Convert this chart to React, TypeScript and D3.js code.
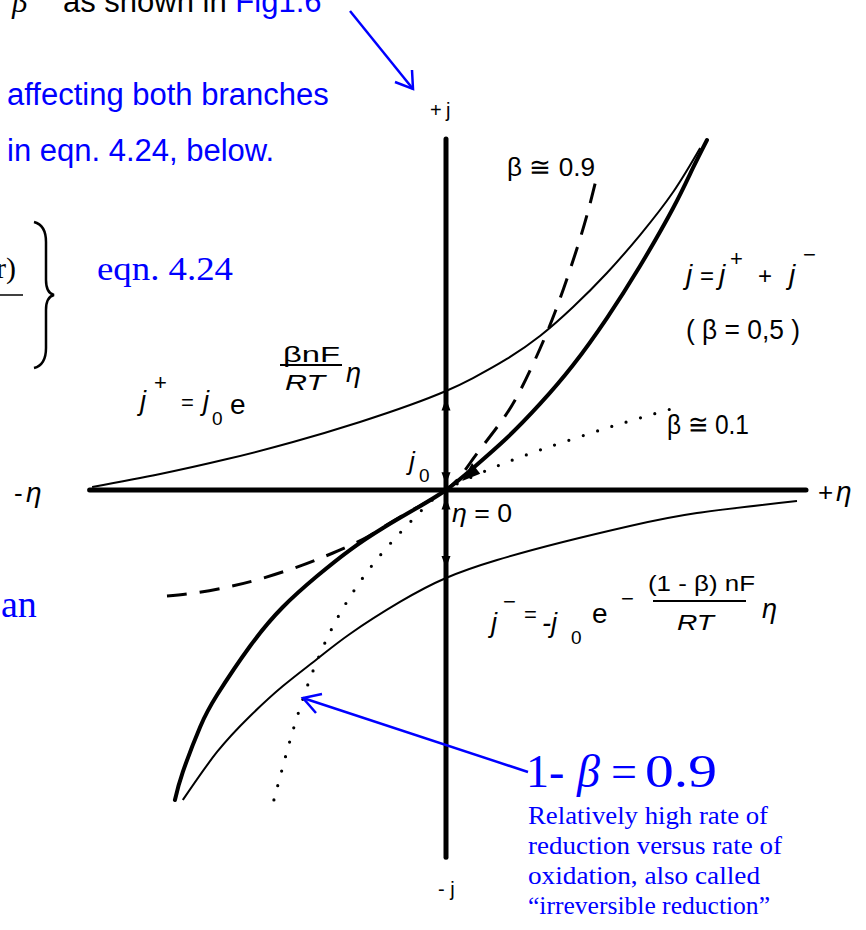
import React from "react";
import * as d3 from "d3";

const W = 866;
const H = 930;

// Overpotential η (relative units) and current density j (relative units)
// Anodic partial current j+ (β = 0.5)
const anodicEta = [-0.983, -0.794, -0.608, -0.425, -0.239, -0.1, 0, 0.075, 0.169, 0.261, 0.353, 0.447, 0.539, 0.631, 0.706];
const anodicJ = [0.033, 0.178, 0.344, 0.533, 0.756, 0.944, 1.1, 1.244, 1.456, 1.711, 2.033, 2.411, 2.833, 3.311, 3.8];

// Cathodic partial current j- (β = 0.5)
const cathodicEta = [-0.731, -0.636, -0.544, -0.453, -0.358, -0.267, -0.128, 0, 0.142, 0.325, 0.511, 0.697, 0.975];
const cathodicJ = [-3.444, -2.911, -2.511, -2.178, -1.878, -1.6, -1.244, -0.978, -0.778, -0.578, -0.4, -0.256, -0.122];

// Net current j = j+ + j- (β = 0.5)
const netEta = [-0.753, -0.731, -0.683, -0.636, -0.544, -0.453, -0.358, -0.267, -0.175, -0.081, 0, 0.075, 0.169, 0.261, 0.353, 0.447, 0.539, 0.631, 0.686, 0.725];
const netJ = [-3.444, -3.133, -2.633, -2.278, -1.733, -1.3, -0.956, -0.667, -0.422, -0.2, 0, 0.244, 0.578, 0.956, 1.389, 1.911, 2.489, 3.133, 3.578, 3.889];

// Net current for β ≅ 0.9
const beta09Eta = [-0.775, -0.697, -0.606, -0.517, -0.414, -0.314, -0.219, -0.128, 0, 0.067, 0.136, 0.192, 0.247, 0.303, 0.358, 0.394, 0.422];
const beta09J = [-1.178, -1.144, -1.078, -0.989, -0.856, -0.7, -0.522, -0.3, 0, 0.3, 0.667, 1.0, 1.444, 1.978, 2.611, 3.089, 3.533];

// Net current for β ≅ 0.1
const beta01Eta = [-0.478, -0.458, -0.436, -0.411, -0.381, -0.344, -0.3, -0.247, -0.189, -0.128, -0.067, 0, 0.103, 0.178, 0.261, 0.353, 0.447, 0.539, 0.644];
const beta01J = [-3.444, -3.144, -2.822, -2.489, -2.133, -1.767, -1.411, -1.067, -0.756, -0.478, -0.222, 0, 0.2, 0.322, 0.444, 0.567, 0.689, 0.8, 0.922];

// Axis extents
const etaAxis = [-0.99, 1.0];
const jAxis = [3.9, -4.08];

// j0 arrows on the current axis: [position, direction (+1 up, -1 down)]
const j0Arrows: [number, number][] = [
  [0.95, 1],
  [0.13, -1],
  [-0.15, 1],
  [-0.8, -1],
];

const x = d3.scaleLinear().domain([-1, 1]).range([86, 806]);
const y = d3.scaleLinear().domain([-4, 4]).range([850, 130]);

const zip = (a: number[], b: number[]) => a.map((v, i) => [v, b[i]] as [number, number]);

const line = d3
  .line<[number, number]>()
  .x((d) => x(d[0]))
  .y((d) => y(d[1]))
  .curve(d3.curveNatural);

const BLUE = "#0000ff";
const HAND = "'Liberation Sans', Arial, sans-serif";
const SERIF = "'Liberation Serif', 'Times New Roman', serif";

function Tri({ cx, cy, dir }: { cx: number; cy: number; dir: number }) {
  const h = 12;
  const w = 4.5;
  const tip = cy - (dir * h) / 2;
  const base = cy + (dir * h) / 2;
  return <path d={`M${cx},${tip} L${cx - w},${base} L${cx + w},${base} Z`} fill="#000" />;
}

export default function App() {
  const x0 = x(0);
  const y0 = y(0);
  return (
    <svg width={W} height={H} viewBox={`0 0 ${W} ${H}`} style={{ display: "block", position: "absolute", left: 0, top: 0, background: "#fff" }}>
      <rect width={W} height={H} fill="#fff" />

      {/* top-left explanatory text (its first line runs off the top edge) */}
      <text x={12} y={12} fontFamily={SERIF} fontStyle="italic" fontSize={31} fill="#000">β</text>
      <text x={63} y={12} fontFamily={HAND} fontSize={31} fill="#000">
        as shown in <tspan fill={BLUE}>Fig1.6</tspan>
      </text>
      <text x={7} y={105} fontFamily={HAND} fontSize={31} fill={BLUE}>affecting both branches</text>
      <text x={7} y={161} fontFamily={HAND} fontSize={31} fill={BLUE}>in eqn. 4.24, below.</text>

      {/* tail of the equation block */}
      <text x={-4} y={278} fontFamily={SERIF} fontSize={30} fill="#000">r)</text>
      <line x1={0} x2={23} y1={295} y2={295} stroke="#000" strokeWidth={1.5} />
      <path
        d="M34,222 Q46,225 46,242 L46,280 Q46,293 54,295 Q46,297 46,310 L46,348 Q46,365 34,368"
        fill="none"
        stroke="#000"
        strokeWidth={2.5}
      />
      <text x={97} y={280} fontFamily={SERIF} fontSize={34} fill={BLUE} textLength={136} lengthAdjust="spacingAndGlyphs">eqn. 4.24</text>
      <text x={1} y={617} fontFamily={SERIF} fontSize={38} fill={BLUE}>an</text>

      {/* top pointer arrow */}
      <g stroke={BLUE} strokeWidth={2.5} fill="none">
        <line x1={350} y1={11} x2={413} y2={89} />
        <polyline points="395,82 413,89 412,70" />
      </g>

      {/* axes */}
      <line x1={x(etaAxis[0])} x2={x(etaAxis[1])} y1={y0} y2={y0} stroke="#000" strokeWidth={5} strokeLinecap="round" />
      <line x1={x0} x2={x0} y1={y(jAxis[0])} y2={y(jAxis[1])} stroke="#000" strokeWidth={5} strokeLinecap="round" />
      {j0Arrows.map(([v, d], i) => (
        <Tri key={i} cx={x0} cy={y(v)} dir={d} />
      ))}

      {/* curves */}
      <path d={line(zip(anodicEta, anodicJ)) || ""} fill="none" stroke="#000" strokeWidth={2} />
      <path d={line(zip(cathodicEta, cathodicJ)) || ""} fill="none" stroke="#000" strokeWidth={2} />
      <path d={line(zip(netEta, netJ)) || ""} fill="none" stroke="#000" strokeWidth={4} strokeLinecap="round" />
      <path d={line(zip(beta09Eta, beta09J)) || ""} fill="none" stroke="#000" strokeWidth={3} strokeDasharray="20 13" />
      <path d={line(zip(beta01Eta, beta01J)) || ""} fill="none" stroke="#000" strokeWidth={3.2} strokeDasharray="0 15" strokeLinecap="round" />

      {/* small arrow on the net-current curve near the origin */}
      <path
        d={`M${x(0.045)},${y(0.1)} L${x(0.075) - 1},${y(0.3)} L${x(0.095)},${y(0.18)} Z`}
        fill="#000"
      />

      {/* axis labels */}
      <g fontFamily={HAND} fill="#000">
        <text x={430} y={117} fontSize={20}>+</text>
        <text x={446} y={117} fontSize={20}>j</text>
        <text x={438} y={896} fontSize={20}>- j</text>
        <text x={818} y={501} fontSize={26}>+</text>
        <text x={836} y={501} fontSize={28} fontStyle="italic">η</text>
        <text x={14} y={502} fontSize={26}>-</text>
        <text x={26} y={502} fontSize={28} fontStyle="italic">η</text>
      </g>

      {/* curve labels */}
      <g fontFamily={HAND} fill="#000">
        <text x={507} y={176} fontSize={26} textLength={88} lengthAdjust="spacingAndGlyphs">β ≅ 0.9</text>
        <text x={667} y={434} fontSize={28} textLength={82} lengthAdjust="spacingAndGlyphs">β ≅ 0.1</text>

        <text x={686} y={284} fontSize={28} fontStyle="italic">j</text>
        <text x={700} y={284} fontSize={24}>=</text>
        <text x={719} y={284} fontSize={28} fontStyle="italic">j</text>
        <text x={730} y={266} fontSize={22}>+</text>
        <text x={758} y={284} fontSize={24}>+</text>
        <text x={789} y={284} fontSize={28} fontStyle="italic">j</text>
        <text x={803} y={262} fontSize={22}>−</text>
        <text x={686} y={339} fontSize={27} textLength={114} lengthAdjust="spacingAndGlyphs">( β = 0,5 )</text>

        {/* j+ expression */}
        <text x={140} y={410} fontSize={27} fontStyle="italic">j</text>
        <text x={154} y={390} fontSize={22}>+</text>
        <text x={181} y={410} fontSize={22}>=</text>
        <text x={203} y={410} fontSize={27} fontStyle="italic">j</text>
        <text x={212} y={425} fontSize={19}>0</text>
        <text x={230} y={414} fontSize={28}>e</text>
        <text x={283} y={362} fontSize={22} textLength={57} lengthAdjust="spacingAndGlyphs">βnF</text>
        <line x1={280} x2={342} y1={365} y2={365} stroke="#000" strokeWidth={2} />
        <text x={285} y={390} fontSize={22} fontStyle="italic" textLength={40} lengthAdjust="spacingAndGlyphs">RT</text>
        <text x={346} y={382} fontSize={27} fontStyle="italic">η</text>

        {/* j0 and η = 0 at the origin */}
        <text x={409} y={470} fontSize={26} fontStyle="italic">j</text>
        <text x={419} y={482} fontSize={19}>0</text>
        <text x={452} y={522} fontSize={26} textLength={60} lengthAdjust="spacingAndGlyphs">
          <tspan fontStyle="italic">η</tspan> = 0
        </text>

        {/* j- expression */}
        <text x={491} y={632} fontSize={27} fontStyle="italic">j</text>
        <text x={503} y={609} fontSize={22}>−</text>
        <text x={524} y={622} fontSize={22}>=</text>
        <text x={542} y={632} fontSize={27} fontStyle="italic">-j</text>
        <text x={571} y={644} fontSize={19}>0</text>
        <text x={592} y={623} fontSize={28}>e</text>
        <text x={621} y={606} fontSize={22}>−</text>
        <text x={648} y={591} fontSize={22} textLength={107} lengthAdjust="spacingAndGlyphs">(1 - β) nF</text>
        <line x1={653} x2={746} y1={601} y2={601} stroke="#000" strokeWidth={2} />
        <text x={677} y={630} fontSize={22} fontStyle="italic" textLength={37} lengthAdjust="spacingAndGlyphs">RT</text>
        <text x={762} y={618} fontSize={27} fontStyle="italic">η</text>
      </g>

      {/* bottom annotation */}
      <g stroke={BLUE} strokeWidth={2.5} fill="none">
        <line x1={528} y1={772} x2={303} y2={698} />
        <polyline points="322,694 303,698 316,713" />
      </g>
      <g fontFamily={SERIF} fontSize={46} fill={BLUE}>
        <text x={526} y={787}>1-</text>
        <text x={577} y={787} fontStyle="italic">β</text>
        <text x={611} y={787}>=</text>
        <text x={645} y={787} textLength={72} lengthAdjust="spacingAndGlyphs">0.9</text>
      </g>
      <g fontFamily={SERIF} fontSize={25} fill={BLUE}>
        <text x={528} y={824} textLength={240} lengthAdjust="spacingAndGlyphs">Relatively high rate of</text>
        <text x={528} y={854} textLength={254} lengthAdjust="spacingAndGlyphs">reduction versus rate of</text>
        <text x={528} y={884} textLength={232} lengthAdjust="spacingAndGlyphs">oxidation,  also called</text>
        <text x={528} y={914} textLength={242} lengthAdjust="spacingAndGlyphs">“irreversible reduction”</text>
      </g>
    </svg>
  );
}
